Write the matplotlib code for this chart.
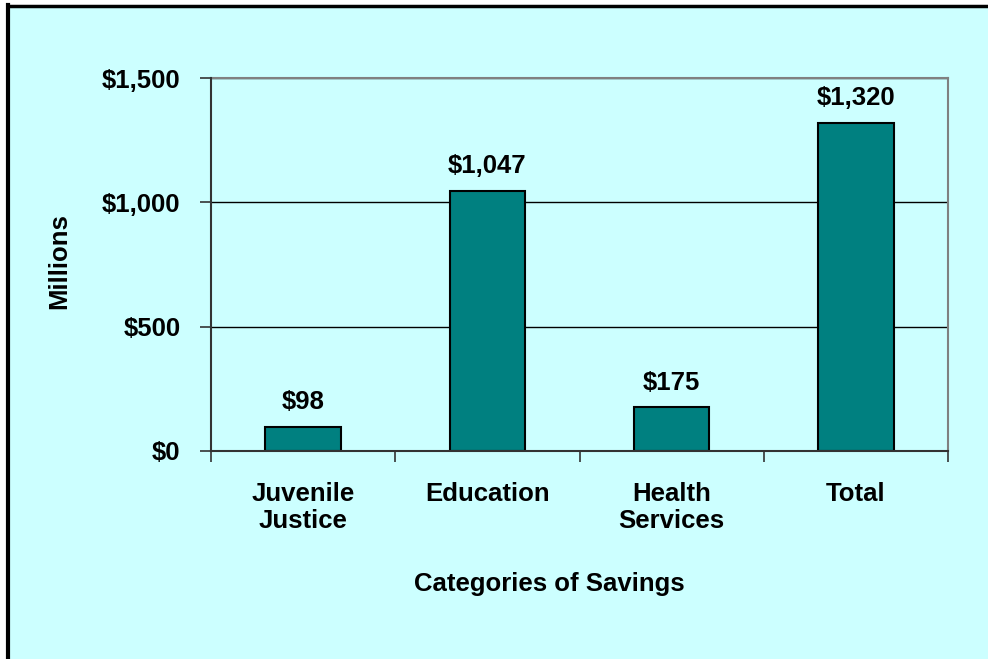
import matplotlib.pyplot as plt
from matplotlib.patches import Rectangle
from matplotlib.lines import Line2D
import numpy as np

categories = ["Juvenile\nJustice", "Education", "Health\nServices", "Total"]
savings = [98, 1047, 175, 1320]
yticks = [0, 500, 1000, 1500]
ytick_labels = ["$0", "$500", "$1,000", "$1,500"]

bg = "#CCFFFF"
bar_color = "#008080"
fs = 18.5

plt.rcParams["font.family"] = ["Liberation Sans", "DejaVu Sans"]
plt.rcParams["font.weight"] = "bold"

fig = plt.figure(figsize=(9.88, 6.59), dpi=100)
fig.patch.set_facecolor("white")

# cyan chart area with black frame on top and left only
W, H = 988, 659
fig.patches.append(Rectangle((7.5 / W, 0), 1, 1 - 5.5 / H, transform=fig.transFigure,
                             facecolor=bg, edgecolor="none", zorder=-2))
fig.lines.append(Line2D([7.5 / W, 1], [1 - 5.5 / H, 1 - 5.5 / H], transform=fig.transFigure,
                        color="black", linewidth=2.5, zorder=-1))
fig.lines.append(Line2D([7.5 / W, 7.5 / W], [0, 1 - 4.5 / H], transform=fig.transFigure,
                        color="black", linewidth=3, zorder=-1))

ax = fig.add_axes([211 / W, 1 - 451 / H, (948 - 211) / W, (451 - 78) / H])
ax.set_zorder(1)
ax.set_facecolor(bg)

x = np.arange(len(categories))
bars = ax.bar(x, savings, width=0.41, color=bar_color, edgecolor="black", linewidth=1.5, zorder=3)

for b, v in zip(bars, savings):
    ax.annotate(f"${v:,}", (b.get_x() + b.get_width() / 2, v), xytext=(0, 9),
                textcoords="offset points", ha="center", va="bottom",
                fontsize=fs, fontweight="bold")

ax.set_xlim(-0.5, len(categories) - 0.5)
ax.set_ylim(0, 1500)
ax.set_yticks(yticks)
ax.set_yticklabels(ytick_labels)
ax.set_xticks(x)
ax.set_xticklabels(categories)
ax.set_xticks(np.arange(-0.5, len(categories)), minor=True)
ax.tick_params(axis="x", which="major", length=0, pad=22, labelsize=fs)
ax.tick_params(axis="x", which="minor", length=8, width=1.2, color="#333333")
ax.tick_params(axis="y", length=8, width=1.2, color="#333333", pad=14, labelsize=fs)

ax.grid(axis="y", color="black", linewidth=1, zorder=1)
ax.set_axisbelow(True)

for side in ["top", "right"]:
    ax.spines[side].set_color("#808080")
    ax.spines[side].set_linewidth(1.5)
for side in ["left", "bottom"]:
    ax.spines[side].set_color("#333333")
    ax.spines[side].set_linewidth(1.5)
    ax.spines[side].set_zorder(4)

ax.set_xlabel("Categories of Savings", fontsize=fs, fontweight="bold")
ax.xaxis.set_label_coords(0.459, -0.325)
ax.set_ylabel("Millions", fontsize=fs, fontweight="bold")
ax.yaxis.set_label_coords(-0.19, 0.51)

fig.savefig("out.png", dpi=100, facecolor=fig.get_facecolor())
